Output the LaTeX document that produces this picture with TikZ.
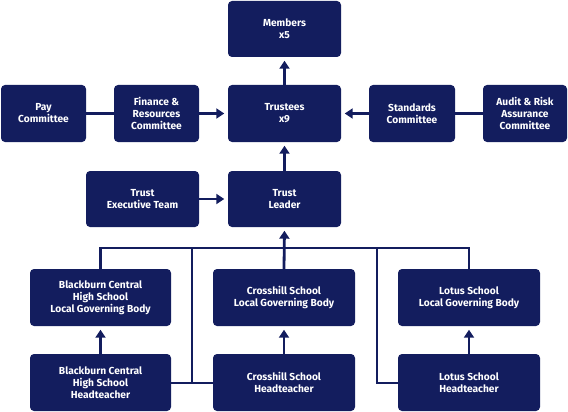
\documentclass[tikz,border=0pt]{standalone}
\usepackage{fontspec}
\setmainfont{Fira Sans}
\usetikzlibrary{arrows.meta}
\definecolor{navy}{RGB}{19,29,94}
\tikzset{
  box/.style={fill=navy, rounded corners=4pt, text=white, align=center, inner sep=0pt,
    font=\bfseries\fontsize{10.2}{12}\selectfont},
  conn/.style={draw=navy, line width=2.8pt},
  arr/.style={conn, -{Triangle[width=10pt,length=8pt]}, shorten >=3.5pt}
}
\newcommand{\bx}[6]{% name, x1, y1, x2, y2, text
  \node[box, minimum width={(#4-#2)*1pt}, minimum height={(#5-#3)*1pt}] (#1) at ({(#2+#4)/2},{(#3+#5)/2}) {#6};}
\begin{document}
\begin{tikzpicture}[x=1pt,y=-1pt]
\useasboundingbox (0,0) rectangle (568,412);
\bx{members}{228}{1}{341}{57}{Members\\x5}
\bx{trustees}{228}{85}{341}{142}{Trustees\\x9}
\bx{pay}{1}{85}{86}{142}{Pay\\Committee}
\bx{finance}{114}{85}{199}{142}{Finance \&\\Resources\\Committee}
\bx{standards}{369}{85}{455}{142}{Standards\\Committee}
\bx{audit}{483}{85}{567}{142}{Audit \& Risk\\Assurance\\Committee}
\bx{exec}{86}{171}{199}{227}{Trust\\Executive Team}
\bx{leader}{228}{171}{341}{227}{Trust\\Leader}
\bx{blgb}{30}{269}{171}{326}{Blackburn Central\\High School\\Local Governing Body}
\bx{bht}{30}{354}{171}{411}{Blackburn Central\\High School\\Headteacher}
\bx{clgb}{213}{269}{355}{326}{Crosshill School\\Local Governing Body}
\bx{cht}{213}{354}{355}{411}{Crosshill School\\Headteacher}
\bx{llgb}{398}{269}{540}{326}{Lotus School\\Local Governing Body}
\bx{lht}{398}{354}{540}{411}{Lotus School\\Headteacher}

\coordinate (busL) at (blgb.north |- 0,248);
\coordinate (busR) at (llgb.north |- 0,248);
\coordinate (busB) at (192,248);
\coordinate (busC) at (377,248);
\coordinate (lowB) at (192,383);

\draw[arr] (trustees.north) -- (members.south);
\draw[arr] (leader.north) -- (trustees.south);
\draw[conn] (pay.east |- 0,113.5) -- (finance.west |- 0,113.5);
\draw[arr] (finance.east |- 0,113.5) -- (trustees.west |- 0,113.5);
\draw[conn] (audit.west |- 0,113.5) -- (standards.east |- 0,113.5);
\draw[arr] (standards.west |- 0,113.5) -- (trustees.east |- 0,113.5);
\draw[arr] (exec.east |- 0,199) -- (leader.west |- 0,199);
\draw[conn] (blgb.north) -- (busL) -- (busR) -- (llgb.north);
\draw[arr] (clgb.north) -- (leader.south);
\draw[conn] (busB) -- (lowB);
\draw[conn] (bht.east |- lowB) -- (cht.west |- lowB);
\draw[conn] (lht.west |- lowB) -| (busC);
\draw[arr] (bht.north) -- (blgb.south);
\draw[arr] (cht.north) -- (clgb.south);
\draw[arr] (lht.north) -- (llgb.south);
\end{tikzpicture}
\end{document}
